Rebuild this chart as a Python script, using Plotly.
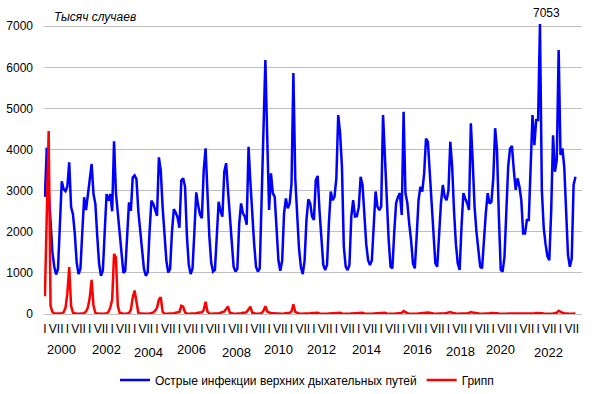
import plotly.graph_objects as go

# ---------------- data (thousand cases, monthly from Jan 2000) ----------------
ari_2000 = [2850, 4050, 3000, 2200, 1500, 1150, 960, 1100, 2200, 3230, 3040, 2990]
ari_2001 = [3100, 3690, 2600, 2430, 1950, 1250, 970, 1100, 2000, 2840, 2530, 2920]
ari_2002 = [3250, 3650, 2920, 2680, 1900, 1220, 930, 1050, 2000, 2920, 2760, 2920]
ari_2003 = [2500, 4200, 2950, 2450, 1850, 1350, 1000, 1050, 2000, 2720, 2510, 3320]
ari_2004 = [3370, 3280, 2500, 2000, 1500, 1100, 930, 1010, 2000, 2760, 2680, 2550]
ari_2005 = [2390, 3810, 3490, 2600, 1800, 1300, 1010, 1090, 2000, 2550, 2470, 2350]
ari_2006 = [2100, 3250, 3300, 3100, 1900, 1200, 970, 1100, 2000, 2960, 2650, 2420]
ari_2007 = [2330, 3500, 4030, 2900, 1900, 1250, 1030, 1070, 2000, 2730, 2500, 2370]
ari_2008 = [3460, 3670, 3000, 2300, 1600, 1150, 1030, 1100, 2200, 2690, 2450, 2370]
ari_2009 = [2170, 4070, 3200, 2400, 1700, 1150, 1030, 1110, 2700, 4400, 6180, 4300]
ari_2010 = [2530, 3420, 2940, 2850, 2000, 1300, 1050, 1300, 2450, 2810, 2570, 2690]
ari_2011 = [3180, 5860, 3300, 2300, 1600, 1150, 970, 1300, 2290, 2790, 2690, 2370]
ari_2012 = [2290, 3260, 3360, 2500, 1700, 1200, 1070, 1190, 2200, 2980, 2770, 2850]
ari_2013 = [3300, 4840, 4400, 3580, 1640, 1150, 1070, 1190, 2370, 2770, 2370, 2380]
ari_2014 = [2600, 3340, 3140, 2300, 1700, 1310, 1190, 1300, 2300, 2980, 2610, 2530]
ari_2015 = [2610, 4840, 3830, 2600, 1800, 1150, 1110, 2000, 2700, 2850, 2940, 2410]
ari_2016 = [4920, 2940, 2700, 2200, 1800, 1230, 1110, 1900, 2770, 3100, 2980, 3420]
ari_2017 = [4270, 4190, 3420, 2700, 2040, 1230, 1150, 1900, 2700, 3140, 2850, 2770]
ari_2018 = [3000, 4190, 3580, 2500, 1700, 1230, 1070, 2120, 2940, 2810, 2700, 2530]
ari_2019 = [4640, 3700, 2600, 2000, 1560, 1150, 1110, 1900, 2450, 2940, 2690, 2730]
ari_2020 = [3300, 4520, 3990, 2370, 1070, 1030, 1390, 2500, 3600, 4030, 4090, 3500]
ari_2021 = [3020, 3300, 3100, 2770, 1960, 1960, 2290, 2290, 3600, 4840, 4110, 4720]
ari_2022 = [4720, 7053, 3020, 2100, 1700, 1400, 1310, 2500, 4350, 3460, 3750, 6420]
ari_2023 = [3870, 4030, 3580, 2610, 1440, 1150, 1350, 3140, 3340]

flu_2000 = [430, 2400, 4450, 200, 50, 10, 5, 5, 10, 20, 40, 150]
flu_2001 = [500, 1140, 200, 30, 10, 5, 5, 5, 10, 20, 60, 160]
flu_2002 = [400, 830, 200, 30, 10, 5, 5, 5, 10, 20, 50, 160]
flu_2003 = [350, 1460, 1380, 200, 30, 10, 5, 5, 10, 20, 100, 400]
flu_2004 = [570, 250, 30, 10, 5, 5, 5, 5, 10, 20, 40, 80]
flu_2005 = [150, 350, 410, 50, 10, 5, 5, 5, 10, 20, 30, 40]
flu_2006 = [50, 200, 180, 40, 10, 5, 5, 5, 10, 20, 30, 40]
flu_2007 = [40, 100, 300, 60, 10, 5, 5, 5, 10, 20, 30, 40]
flu_2008 = [60, 120, 180, 30, 10, 5, 5, 5, 10, 20, 30, 30]
flu_2009 = [50, 120, 180, 30, 10, 5, 5, 5, 20, 80, 190, 60]
flu_2010 = [30, 20, 20, 15, 10, 5, 5, 5, 10, 15, 20, 30]
flu_2011 = [60, 235, 50, 20, 10, 5, 5, 5, 10, 15, 20, 25]
flu_2012 = [25, 40, 30, 15, 10, 5, 5, 5, 10, 15, 20, 25]
flu_2013 = [30, 40, 30, 15, 10, 5, 5, 5, 10, 15, 20, 25]
flu_2014 = [30, 35, 30, 15, 10, 5, 5, 5, 10, 15, 20, 25]
flu_2015 = [30, 40, 30, 15, 10, 5, 5, 5, 10, 15, 20, 25]
flu_2016 = [70, 40, 20, 15, 10, 5, 5, 5, 10, 15, 20, 25]
flu_2017 = [40, 35, 30, 15, 10, 5, 5, 5, 10, 15, 20, 25]
flu_2018 = [30, 45, 30, 15, 10, 5, 5, 5, 10, 15, 20, 25]
flu_2019 = [45, 35, 25, 15, 10, 5, 5, 5, 10, 15, 20, 25]
flu_2020 = [25, 30, 20, 10, 5, 5, 5, 5, 10, 15, 20, 20]
flu_2021 = [15, 15, 15, 10, 5, 5, 5, 5, 10, 15, 20, 25]
flu_2022 = [25, 30, 20, 10, 5, 5, 5, 5, 10, 15, 30, 80]
flu_2023 = [50, 30, 20, 10, 5, 5, 5, 10, 15]

month_labels = ["I", "VII"]
first_year = 2000
last_axis_year = 2023
year_labels = ["2000", "2002", "2004", "2006", "2008", "2010",
               "2012", "2014", "2016", "2018", "2020", "2022"]
series_names = ["Острые инфекции верхних дыхательных путей", "Грипп"]
y_title = "Тысяч случаев"
peak_label = "7053"

# ---------------- assemble ----------------
ari = (ari_2000 + ari_2001 + ari_2002 + ari_2003 + ari_2004 + ari_2005 + ari_2006 +
       ari_2007 + ari_2008 + ari_2009 + ari_2010 + ari_2011 + ari_2012 + ari_2013 +
       ari_2014 + ari_2015 + ari_2016 + ari_2017 + ari_2018 + ari_2019 + ari_2020 +
       ari_2021 + ari_2022 + ari_2023)
flu = (flu_2000 + flu_2001 + flu_2002 + flu_2003 + flu_2004 + flu_2005 + flu_2006 +
       flu_2007 + flu_2008 + flu_2009 + flu_2010 + flu_2011 + flu_2012 + flu_2013 +
       flu_2014 + flu_2015 + flu_2016 + flu_2017 + flu_2018 + flu_2019 + flu_2020 +
       flu_2021 + flu_2022 + flu_2023)
months = list(range(len(ari)))
n_axis_months = (last_axis_year - first_year + 1) * 12

tickvals = list(range(0, n_axis_months, 6))
ticktext = [month_labels[(v // 6) % 2] for v in tickvals]

FONT = "Arial, 'Liberation Sans', sans-serif"

fig = go.Figure()
fig.add_trace(go.Scatter(x=months, y=ari, mode="lines", name=series_names[0],
                         line=dict(color="#0000FF", width=2.5)))
fig.add_trace(go.Scatter(x=months, y=flu, mode="lines", name=series_names[1],
                         line=dict(color="#FF0000", width=2.5)))

# manual year label placement (month-index centres, vertical offsets in px)
year_x = [9.1, 33.2, 55.7, 78.2, 102.3, 124.8, 148.3, 171.9, 199.7, 222.2, 244.1, 269.8]
year_dy = [-35, -35, -38, -35, -38, -35, -35, -35, -35, -37, -35, -38]
annotations = []
for lbl, xv, dy in zip(year_labels, year_x, year_dy):
    annotations.append(dict(x=xv, y=0, xref="x", yref="paper", text=lbl,
                            showarrow=False, yanchor="middle", xanchor="center",
                            yshift=dy, font=dict(size=13, color="black", family=FONT)))
peak_idx = ari.index(max(ari))
annotations.append(dict(x=peak_idx, y=max(ari), xref="x", yref="y", text=peak_label,
                        showarrow=False, yanchor="bottom", xanchor="center",
                        xshift=7, yshift=2, font=dict(size=12, color="black", family=FONT)))
annotations.append(dict(x=0.015, y=1.022, xref="paper", yref="paper", text="<i>" + y_title + "</i>",
                        showarrow=False, xanchor="left", yanchor="middle",
                        font=dict(size=12, color="black", family=FONT)))

fig.update_layout(
    width=596, height=394,
    margin=dict(l=44, r=14, t=23, b=80, autoexpand=False),
    paper_bgcolor="white", plot_bgcolor="white",
    font=dict(family=FONT, size=12, color="black"),
    showlegend=True,
    legend=dict(orientation="h", x=0.132, xanchor="left", y=-0.227, yanchor="middle",
                font=dict(size=12, family=FONT, color="black"),
                bgcolor="rgba(0,0,0,0)", itemwidth=30),
    annotations=annotations,
)
fig.update_xaxes(range=[-0.5, n_axis_months - 0.5], tickvals=tickvals, ticktext=ticktext,
                 tickangle=0, showgrid=False, zeroline=False, showline=False, ticks="",
                 automargin=False,
                 tickfont=dict(size=12, family=FONT, color="black"), ticklabelstandoff=6)
fig.update_yaxes(range=[0, 7080], tickvals=list(range(0, 7001, 1000)), showgrid=True,
                 gridcolor="#BFBFBF", gridwidth=1, zeroline=True, zerolinecolor="#BFBFBF",
                 zerolinewidth=1, showline=False, ticks="", automargin=False,
                 tickfont=dict(size=12, family=FONT, color="black"), ticklabelstandoff=10)

fig.write_html("out.html", config={"displayModeBar": False},
               post_script="document.body.style.margin='0px';document.body.style.overflow='hidden';")
